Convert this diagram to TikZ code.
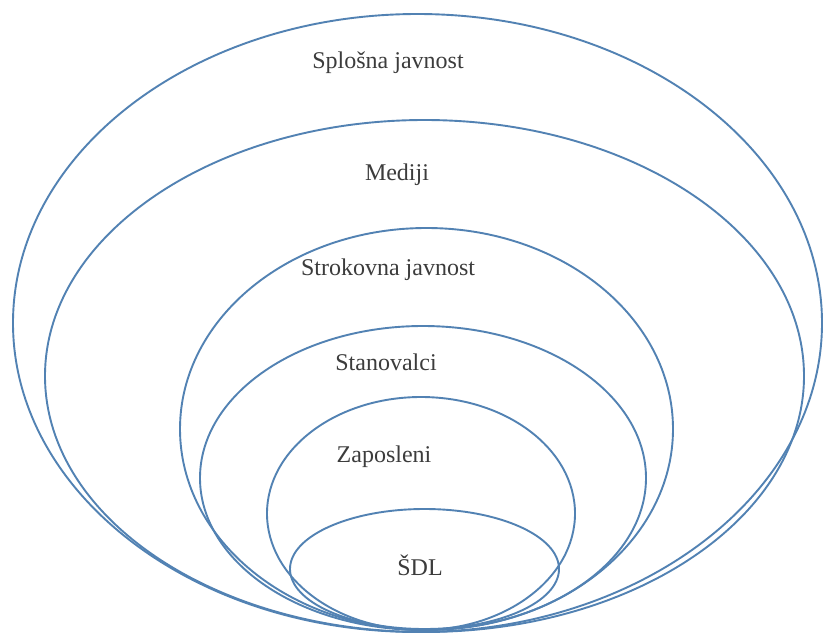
\documentclass[tikz,border=0pt]{standalone}
\usepackage{fontspec}
\setmainfont{Liberation Serif}
\definecolor{ringblue}{HTML}{5282B3}
\definecolor{labelgray}{HTML}{3C3C3C}
\begin{document}
\begin{tikzpicture}[x=1pt,y=-1pt,
  ring/.style={draw=ringblue,line width=1.9pt},
  lbl/.style={text=labelgray,font=\fontsize{24}{28}\selectfont,inner sep=0pt,anchor=center}]
\useasboundingbox[fill=white] (0,0) rectangle (824,637);
% ellipses: centre, x-radius, y-radius
\draw[ring] (417.5,323) ellipse [x radius=404.5pt, y radius=309pt];
\draw[ring] (424.5,376) ellipse [x radius=379.5pt, y radius=256pt];
\draw[ring] (426.5,429) ellipse [x radius=246.5pt, y radius=201pt];
\draw[ring] (423,478) ellipse [x radius=223pt, y radius=152pt];
\draw[ring] (421,513.5) ellipse [x radius=154pt, y radius=116.5pt];
\draw[ring] (424.5,569) ellipse [x radius=134.5pt, y radius=60pt];
% labels
\node[lbl] (splosna) at (388,63) {Splošna javnost};
\node[lbl] (mediji) at (397,175) {Mediji};
\node[lbl] (strokovna) at (388,270) {Strokovna javnost};
\node[lbl] (stanovalci) at (386,362) {Stanovalci};
\node[lbl] (zaposleni) at (384,457) {Zaposleni};
\node[lbl] (sdl) at (420,565) {ŠDL};
\end{tikzpicture}
\end{document}
